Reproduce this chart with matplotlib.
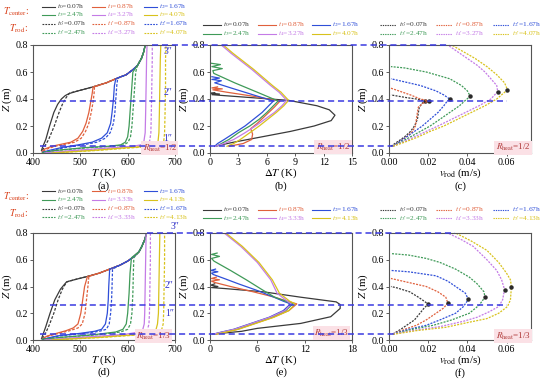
import numpy as np
import matplotlib
matplotlib.use("Agg")
import matplotlib.pyplot as plt
from matplotlib.lines import Line2D
import matplotlib.transforms as mtransforms

plt.rcParams['font.family'] = ['Liberation Serif', 'DejaVu Serif']
plt.rcParams['mathtext.fontset'] = 'stix'

W, H = 550, 380
colors = ['#3a3a3a', '#e0603c', '#2f4fd8', '#3f9a58', '#c47be6', '#d8c21c']
guide_c = '#3a3ae0'

times_top = ['0.07', '0.87', '1.67', '2.47', '3.27', '4.07']
times_bot = ['0.07', '0.87', '1.67', '2.47', '3.33', '4.13']

# ---------------- (a) T_center / T_rod, R_heat = 1/2
a_ctr_Z = [
    [0.02, 0.05, 0.10, 0.20, 0.30, 0.36, 0.40, 0.425, 0.44, 0.46, 0.49, 0.52, 0.55, 0.58, 0.62, 0.65, 0.70, 0.75, 0.80],
    [0.01, 0.03, 0.05, 0.065, 0.08, 0.11, 0.16, 0.22, 0.30, 0.38, 0.44, 0.49, 0.52, 0.55, 0.58, 0.62, 0.65, 0.70, 0.75, 0.80],
    [0.005, 0.02, 0.04, 0.06, 0.08, 0.11, 0.15, 0.22, 0.30, 0.40, 0.50, 0.55, 0.58, 0.62, 0.65, 0.70, 0.75, 0.80],
    [0.003, 0.02, 0.04, 0.05, 0.06, 0.08, 0.12, 0.20, 0.30, 0.40, 0.50, 0.60, 0.65, 0.70, 0.75, 0.80],
    [0.0, 0.02, 0.04, 0.05, 0.06, 0.08, 0.15, 0.30, 0.50, 0.70, 0.80],
    [0.0, 0.02, 0.04, 0.05, 0.06, 0.08, 0.15, 0.30, 0.50, 0.70, 0.80],
]
a_ctr_T = [
    [418, 421, 427, 435, 444, 452, 460, 468, 476, 495, 527, 555, 575, 597, 612, 621, 629, 634, 637],
    [419, 425, 440, 460, 480, 495, 505, 512, 518, 522, 525, 527, 555, 575, 597, 612, 621, 629, 634, 637],
    [420, 435, 460, 495, 525, 545, 557, 564, 567, 570, 572, 575, 597, 612, 621, 629, 634, 637],
    [420, 450, 510, 560, 585, 595, 600, 603, 605, 607, 609, 611, 621, 629, 634, 637],
    [425, 490, 570, 610, 628, 634, 637, 638, 639, 640, 641],
    [440, 530, 600, 645, 660, 664, 666, 667, 668, 669, 670],
]
a_rod_Z = [
    [0.02, 0.05, 0.10, 0.20, 0.30, 0.36, 0.40, 0.43, 0.445, 0.46, 0.49, 0.52, 0.55, 0.58, 0.62, 0.65, 0.70, 0.75, 0.80],
    [0.01, 0.03, 0.05, 0.065, 0.08, 0.11, 0.16, 0.22, 0.30, 0.38, 0.44, 0.49, 0.52, 0.55, 0.58, 0.62, 0.65, 0.70, 0.75, 0.80],
    [0.005, 0.02, 0.04, 0.06, 0.08, 0.11, 0.15, 0.22, 0.30, 0.40, 0.50, 0.555, 0.58, 0.62, 0.65, 0.70, 0.75, 0.80],
    [0.003, 0.02, 0.04, 0.05, 0.06, 0.08, 0.12, 0.20, 0.30, 0.40, 0.50, 0.60, 0.65, 0.70, 0.75, 0.80],
    [0.0, 0.02, 0.04, 0.05, 0.06, 0.08, 0.15, 0.30, 0.50, 0.70, 0.80],
    [0.0, 0.02, 0.04, 0.05, 0.06, 0.08, 0.15, 0.30, 0.50, 0.70, 0.80],
]
a_rod_T = [
    [420, 425, 433, 445, 455, 462, 468, 474, 478, 495, 527, 555, 575, 597, 612, 621, 629, 634, 637],
    [421, 430, 447, 468, 488, 502, 511, 518, 523, 527, 529, 530, 555, 575, 597, 612, 621, 629, 634, 637],
    [421, 440, 468, 505, 535, 553, 563, 570, 573, 575, 577, 579, 597, 612, 621, 629, 634, 637],
    [421, 455, 520, 570, 592, 601, 606, 609, 611, 613, 615, 617, 621, 629, 634, 637],
    [427, 500, 585, 625, 640, 646, 649, 650, 651, 652, 652],
    [442, 540, 615, 660, 672, 676, 678, 679, 680, 680, 681],
]

# ---------------- (d) R_heat = 1/3
d_ctr_Z = [
    [0.01, 0.04, 0.10, 0.20, 0.30, 0.38, 0.41, 0.435, 0.455, 0.475, 0.50, 0.53, 0.56, 0.59, 0.62, 0.66, 0.70, 0.75, 0.80],
    [0.01, 0.03, 0.05, 0.07, 0.09, 0.12, 0.20, 0.30, 0.40, 0.475, 0.50, 0.53, 0.56, 0.59, 0.62, 0.66, 0.70, 0.75, 0.80],
    [0.005, 0.03, 0.05, 0.065, 0.08, 0.12, 0.20, 0.30, 0.40, 0.53, 0.56, 0.59, 0.62, 0.66, 0.70, 0.75, 0.80],
    [0.005, 0.02, 0.04, 0.06, 0.08, 0.12, 0.20, 0.35, 0.50, 0.615, 0.66, 0.70, 0.75, 0.80],
    [0.0, 0.02, 0.04, 0.06, 0.08, 0.12, 0.20, 0.40, 0.60, 0.80],
    [0.0, 0.02, 0.04, 0.06, 0.08, 0.12, 0.20, 0.40, 0.60, 0.80],
]
d_ctr_T = [
    [418, 421, 427, 436, 446, 458, 465, 471, 492, 515, 540, 562, 584, 600, 612, 624, 630, 636, 640],
    [420, 430, 450, 470, 485, 495, 501, 505, 509, 515, 540, 562, 584, 600, 612, 624, 630, 636, 640],
    [420, 450, 500, 530, 545, 553, 557, 559, 560, 562, 584, 600, 612, 624, 630, 636, 640],
    [420, 460, 530, 575, 590, 597, 600, 603, 605, 608, 624, 630, 636, 640],
    [425, 500, 590, 625, 632, 635, 636, 637, 638, 639],
    [440, 540, 620, 652, 660, 663, 665, 666, 667, 668],
]
d_rod_Z = d_ctr_Z
d_rod_T = [
    [420, 425, 433, 444, 453, 462, 467, 472, 492, 515, 540, 562, 584, 600, 612, 624, 630, 636, 640],
    [421, 433, 455, 478, 495, 504, 510, 513, 516, 518, 540, 562, 584, 600, 612, 624, 630, 636, 640],
    [421, 455, 510, 540, 555, 561, 564, 566, 567, 568, 584, 600, 612, 624, 630, 636, 640],
    [421, 465, 540, 585, 600, 606, 609, 611, 612, 613, 624, 630, 636, 640],
    [427, 510, 600, 635, 642, 645, 646, 647, 648, 648],
    [442, 550, 630, 665, 672, 675, 676, 677, 678, 678],
]

# ---------------- (b) Delta T, R_heat = 1/2
b_Z = [
    [0.05, 0.08, 0.12, 0.16, 0.20, 0.24, 0.28, 0.32, 0.35, 0.37, 0.39, 0.41, 0.425, 0.432, 0.437, 0.442, 0.447],
    [0.05, 0.07, 0.10, 0.14, 0.18, 0.22, 0.28, 0.34, 0.385, 0.42, 0.45, 0.468, 0.475, 0.482, 0.49],
    [0.05, 0.07, 0.10, 0.15, 0.20, 0.25, 0.30, 0.35, 0.385, 0.43, 0.48, 0.52, 0.535, 0.545, 0.555, 0.565],
    [0.05, 0.07, 0.10, 0.15, 0.20, 0.25, 0.30, 0.35, 0.385, 0.45, 0.52, 0.59, 0.61, 0.625, 0.64, 0.655, 0.665],
    [0.05, 0.07, 0.10, 0.15, 0.20, 0.25, 0.30, 0.35, 0.39, 0.45, 0.50, 0.56, 0.62, 0.68, 0.74, 0.80],
    [0.05, 0.07, 0.10, 0.15, 0.20, 0.25, 0.30, 0.35, 0.39, 0.45, 0.50, 0.56, 0.62, 0.68, 0.74, 0.80],
]
b_dT = [
    [0.5, 2.5, 5.5, 8.5, 11.0, 12.8, 13.2, 12.6, 11.3, 9.8, 8.3, 4.4, 1.5, 0.2, 1.0, 0.1, 0.5],
    [2.0, 3.5, 4.4, 4.5, 4.3, 5.0, 5.9, 6.8, 7.4, 4.6, 1.8, 0.3, 1.3, 0.2, 0.8],
    [0.5, 0.8, 1.5, 2.6, 3.7, 4.6, 5.5, 6.2, 6.7, 4.6, 2.3, 0.5, 1.2, 0.2, 1.0, 0.2],
    [0.7, 1.2, 2.0, 3.0, 4.2, 5.2, 6.0, 6.7, 7.2, 5.0, 2.6, 0.4, 0.3, 1.3, 0.2, 1.1, 0.1],
    [0.6, 1.5, 2.5, 3.7, 4.8, 5.8, 6.8, 7.6, 8.1, 7.3, 6.4, 5.4, 4.4, 3.3, 2.2, 1.2],
    [1.8, 2.5, 3.2, 4.2, 5.2, 6.1, 7.0, 7.8, 8.3, 7.5, 6.6, 5.6, 4.6, 3.5, 2.4, 1.4],
]

# ---------------- (e) Delta T, R_heat = 1/3
e_Z = [
    [0.045, 0.05, 0.065, 0.087, 0.124, 0.174, 0.236, 0.265, 0.285, 0.32, 0.36, 0.385, 0.392, 0.40, 0.41, 0.42],
    [0.045, 0.06, 0.08, 0.12, 0.17, 0.22, 0.27, 0.29, 0.32, 0.36, 0.40, 0.43, 0.44, 0.45, 0.46, 0.47],
    [0.045, 0.06, 0.08, 0.12, 0.17, 0.22, 0.27, 0.29, 0.32, 0.37, 0.42, 0.46, 0.49, 0.50, 0.51, 0.52, 0.53],
    [0.045, 0.06, 0.08, 0.12, 0.17, 0.22, 0.27, 0.29, 0.32, 0.38, 0.45, 0.52, 0.59, 0.61, 0.625, 0.64, 0.65],
    [0.045, 0.06, 0.08, 0.12, 0.17, 0.22, 0.27, 0.29, 0.35, 0.45, 0.58, 0.70, 0.80],
    [0.045, 0.06, 0.08, 0.12, 0.17, 0.22, 0.27, 0.29, 0.35, 0.45, 0.58, 0.70, 0.80],
]
e_dT = [
    [0.3, 1.4, 4.0, 6.0, 11.5, 15.3, 16.5, 16.5, 16.0, 11.5, 6.8, 1.8, 0.2, 1.0, 0.1, 0.6],
    [0.8, 2.0, 3.5, 5.5, 8.0, 10.0, 11.0, 9.8, 8.2, 5.5, 2.6, 0.6, 0.2, 1.2, 0.2, 0.8],
    [0.5, 1.5, 3.0, 5.0, 7.5, 9.3, 10.2, 9.3, 8.1, 6.0, 3.6, 1.8, 0.4, 0.2, 1.0, 0.1, 0.7],
    [0.6, 1.7, 3.2, 5.2, 7.7, 9.6, 10.5, 9.6, 8.2, 6.5, 4.6, 2.6, 0.5, 0.2, 1.2, 0.2, 0.9],
    [0.5, 1.6, 3.1, 5.1, 7.6, 9.5, 10.3, 9.8, 8.5, 7.7, 6.0, 3.9, 1.8],
    [0.9, 2.1, 3.6, 5.6, 8.1, 10.0, 10.8, 10.1, 8.8, 7.9, 6.2, 4.1, 2.0],
]

# ---------------- (c) v_rod, R_heat = 1/2
c_Z = [
    [0.05, 0.08, 0.12, 0.16, 0.20, 0.25, 0.30, 0.34, 0.37, 0.385, 0.40, 0.41, 0.42, 0.43],
    [0.05, 0.08, 0.12, 0.16, 0.20, 0.25, 0.30, 0.34, 0.37, 0.385, 0.40, 0.43, 0.46, 0.48],
    [0.05, 0.08, 0.12, 0.16, 0.20, 0.25, 0.30, 0.35, 0.38, 0.40, 0.43, 0.46, 0.50, 0.53, 0.55],
    [0.05, 0.08, 0.12, 0.16, 0.20, 0.25, 0.30, 0.35, 0.39, 0.42, 0.46, 0.50, 0.55, 0.60, 0.63, 0.64],
    [0.05, 0.08, 0.12, 0.16, 0.20, 0.25, 0.30, 0.35, 0.40, 0.455, 0.50, 0.55, 0.60, 0.65, 0.70, 0.75, 0.80],
    [0.05, 0.08, 0.12, 0.16, 0.20, 0.25, 0.30, 0.35, 0.40, 0.468, 0.52, 0.58, 0.64, 0.70, 0.75, 0.80],
]
c_v = [
    [0.001, 0.004, 0.008, 0.011, 0.013, 0.0145, 0.015, 0.0155, 0.017, 0.0185, 0.014, 0.009, 0.005, 0.001],
    [0.002, 0.005, 0.009, 0.012, 0.0135, 0.014, 0.0145, 0.015, 0.0175, 0.0205, 0.016, 0.011, 0.005, 0.001],
    [0.002, 0.005, 0.009, 0.013, 0.017, 0.021, 0.025, 0.028, 0.0295, 0.031, 0.028, 0.024, 0.016, 0.007, 0.001],
    [0.002, 0.006, 0.011, 0.016, 0.021, 0.026, 0.031, 0.036, 0.039, 0.0415, 0.040, 0.037, 0.031, 0.019, 0.008, 0.001],
    [0.002, 0.007, 0.013, 0.019, 0.025, 0.032, 0.039, 0.046, 0.052, 0.0555, 0.055, 0.052, 0.049, 0.045, 0.040, 0.035, 0.030],
    [0.002, 0.008, 0.015, 0.021, 0.028, 0.035, 0.042, 0.049, 0.055, 0.0605, 0.059, 0.055, 0.050, 0.044, 0.038, 0.032],
]

# ---------------- (f) v_rod, R_heat = 1/3
f_Z = [
    [0.045, 0.08, 0.11, 0.15, 0.20, 0.24, 0.268, 0.29, 0.32, 0.36, 0.39, 0.40],
    [0.045, 0.08, 0.11, 0.15, 0.20, 0.24, 0.278, 0.32, 0.36, 0.40, 0.43, 0.46],
    [0.045, 0.08, 0.11, 0.15, 0.20, 0.25, 0.303, 0.35, 0.40, 0.44, 0.48, 0.51, 0.52],
    [0.045, 0.08, 0.11, 0.15, 0.20, 0.26, 0.32, 0.36, 0.42, 0.47, 0.53, 0.58, 0.61, 0.635, 0.646],
    [0.045, 0.07, 0.10, 0.14, 0.17, 0.21, 0.25, 0.30, 0.377, 0.45, 0.52, 0.60, 0.70, 0.75, 0.80],
    [0.042, 0.07, 0.095, 0.13, 0.16, 0.20, 0.25, 0.30, 0.397, 0.45, 0.50, 0.58, 0.67, 0.74, 0.80],
]
f_v = [
    [0.002, 0.006, 0.009, 0.013, 0.0158, 0.018, 0.020, 0.018, 0.015, 0.0106, 0.004, 0.001],
    [0.002, 0.008, 0.014, 0.019, 0.024, 0.028, 0.030, 0.029, 0.025, 0.019, 0.010, 0.001],
    [0.002, 0.010, 0.019, 0.026, 0.034, 0.038, 0.0405, 0.039, 0.034, 0.030, 0.024, 0.010, 0.001],
    [0.002, 0.012, 0.0226, 0.032, 0.041, 0.046, 0.049, 0.0485, 0.045, 0.041, 0.034, 0.026, 0.019, 0.010, 0.001],
    [0.002, 0.012, 0.026, 0.038, 0.045, 0.051, 0.056, 0.058, 0.059, 0.0575, 0.055, 0.050, 0.043, 0.037, 0.030],
    [0.002, 0.014, 0.029, 0.040, 0.050, 0.056, 0.0605, 0.062, 0.0625, 0.062, 0.060, 0.056, 0.050, 0.042, 0.034],
]

dash_rod = (0, (2.2, 1.3))
dash_v = (0, (1.6, 1.0))


def px_box(l, t, r, b):
    return [l / W, 1 - b / H, (r - l) / W, (b - t) / H]


def style_ax(ax, xlim, xticks, xfmt):
    ax.set_xlim(*xlim)
    ax.set_ylim(0, 0.8)
    ax.set_xticks(xticks)
    ax.set_xticklabels([xfmt.format(v) for v in xticks])
    ax.set_yticks([0.0, 0.2, 0.4, 0.6, 0.8])
    ax.set_yticklabels(['0.0', '0.2', '0.4', '0.6', '0.8'])
    ax.tick_params(direction='out', length=2.2, width=0.6, color='#444444',
                   labelsize=7.2, pad=1.2)
    for s in ax.spines.values():
        s.set_color('#555555')
        s.set_linewidth(0.8)
    ax.set_ylabel(r'$Z$ (m)', fontsize=7.8, labelpad=1)


def rheat(ax, x, y, txt):
    ax.text(x, y, txt, fontsize=6.5, color='#b03a3a', ha='center', va='center',
            bbox=dict(boxstyle='square,pad=0.15', fc='#fbe1e6', ec='none'))


fig = plt.figure(figsize=(W / 100, H / 100), dpi=100)

rows = [
    dict(top=45, bot=153, dy=0, times=times_top, ctrZ=a_ctr_Z, ctrT=a_ctr_T, rodZ=a_rod_Z, rodT=a_rod_T,
         dZ=b_Z, dT=b_dT, dmax=15, dticks=[0, 3, 6, 9, 12, 15], vZ=c_Z, vv=c_v,
         letters=['(a)', '(b)', '(c)'], rh=r'$R_{\rm heat}$=1/2',
         guides=[(0.8, 152, 450), (0.385, 50, 507), (0.05, 40, 393)],
         marks=[('3\u2033', 685, 0.75), ('2\u2033', 685, 0.45), ('1\u2033', 685, 0.11)],
         rhpos=[(668, 0.037), (13.0, 0.044), (0.0633, 0.040)]),
    dict(top=233, bot=340, dy=185, times=times_bot, ctrZ=d_ctr_Z, ctrT=d_ctr_T, rodZ=d_rod_Z, rodT=d_rod_T,
         dZ=e_Z, dT=e_dT, dmax=18, dticks=[0, 6, 12, 18], vZ=f_Z, vv=f_v,
         letters=['(d)', '(e)', '(f)'], rh=r'$R_{\rm heat}$=1/3',
         guides=[(0.8, 147, 455), (0.265, 50, 507), (0.045, 40, 395)],
         marks=[('3\u2033', 700, 0.845), ('2\u2033', 688, 0.41), ('1\u2033', 688, 0.20)],
         rhpos=[(655, 0.030), (15.4, 0.050), (0.0633, 0.030)]),
]

for row in rows:
    axT = fig.add_axes(px_box(33, row['top'], 175, row['bot']))
    axD = fig.add_axes(px_box(210, row['top'], 352, row['bot']))
    axV = fig.add_axes(px_box(389, row['top'], 531, row['bot']))

    for i in range(6):
        axT.plot(row['ctrT'][i], row['ctrZ'][i], color=colors[i], lw=0.9)
        axT.plot(row['rodT'][i], row['rodZ'][i], color=colors[i], lw=0.9, ls=dash_rod)
        axD.plot(row['dT'][i], row['dZ'][i], color=colors[i], lw=0.9)
        axV.plot(row['vv'][i], row['vZ'][i], color=colors[i], lw=0.9, ls=dash_v)
        k = int(np.argmax(row['vv'][i]))
        axV.plot(row['vv'][i][k], row['vZ'][i][k], 'o', ms=2.2, color='#2a2a2a')

    style_ax(axT, (400, 700), [400, 500, 600, 700], '{:d}')
    style_ax(axD, (0, row['dmax']), row['dticks'], '{:d}')
    style_ax(axV, (0, 0.0725), [0.0, 0.02, 0.04, 0.06], '{:.2f}')
    axT.set_xlabel(r'$T$ (K)', fontsize=7.8, labelpad=0)
    axD.set_xlabel(r'$\Delta T$ (K)', fontsize=7.8, labelpad=0)
    axV.set_xlabel(r'$v_{\rm rod}$ (m/s)', fontsize=7.8, labelpad=0)

    for ax, let in zip([axT, axD, axV], row['letters']):
        ax.text(0.5, -0.305, let, transform=ax.transAxes, ha='center', va='center', fontsize=7.8)

    for ax, (x, y) in zip([axT, axD, axV], row['rhpos']):
        rheat(ax, x, y, row['rh'])

    for txt, x, y in row['marks']:
        axT.text(x, y, txt, color='#3030c8', fontsize=7, ha='center', va='center', clip_on=False)

    trans = mtransforms.blended_transform_factory(fig.transFigure, axT.transData)
    for z, x0, x1 in row['guides']:
        fig.add_artist(Line2D([x0 / W, x1 / W], [z, z], transform=trans, color=guide_c,
                              lw=1.1, ls=(0, (4, 2.5)), zorder=5))

    # legends
    dy = row['dy']
    tl = row['times']

    def entry(x, y, seg, gap, ls, i, prime):
        fig.add_artist(Line2D([x / W, (x + seg) / W], [1 - y / H, 1 - y / H], color=colors[i],
                              lw=0.8, ls=ls))
        lab = r"$t_{%d}$" % i + ('\u2032' if prime else '') + '=' + tl[i] + 'h'
        fig.text((x + gap) / W, 1 - y / H, lab, color=colors[i], fontsize=5.3, va='center', ha='left')

    colsA = [42, 92, 144]
    for r, (yy, ls, prime) in enumerate([(6.5, '-', False), (15, '-', False),
                                          (24, (0, (1.6, 1.0)), True), (32.5, (0, (1.6, 1.0)), True)]):
        for c in range(3):
            i = c + 3 * (r % 2)
            entry(colsA[c], yy + dy, 13, 15, ls, i, prime)
    fig.text(3 / W, 1 - (11.5 + dy) / H, r'$T_{\rm center}$:', color='#d9401a', fontsize=7, va='center')
    fig.text(9 / W, 1 - (28.5 + dy) / H, r'$T_{\rm rod}$:', color='#d9401a', fontsize=7, va='center')

    colsB = [203, 258, 312]
    colsC = [380, 436, 493]
    for r, yy in enumerate([24.5, 33.5]):
        for c in range(3):
            i = c + 3 * r
            entry(colsB[c], yy + dy, 18, 20, '-', i, False)
            entry(colsC[c], yy + dy, 16, 19, (0, (1.2, 0.9)), i, True)

fig.savefig('out.png', dpi=100)
